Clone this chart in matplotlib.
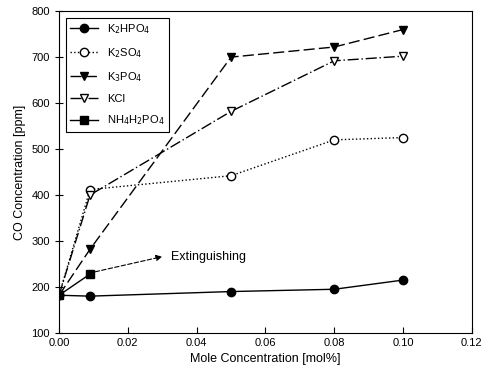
import matplotlib

matplotlib.use("Agg")
import matplotlib.pyplot as plt

plt.rcParams["font.family"] = ["Liberation Sans", "DejaVu Sans"]

# mole concentration [mol%]
x_full = [0.0, 0.009, 0.05, 0.08, 0.10]
x_nh4 = [0.0, 0.009]

# CO concentration [ppm]
k2hpo4 = [182, 180, 190, 195, 215]
k2so4 = [182, 412, 442, 520, 525]
k3po4 = [182, 282, 700, 722, 760]
kcl = [182, 400, 582, 692, 702]
nh4h2po4 = [182, 228]

fig = plt.figure(figsize=(4.84, 3.84), dpi=100)
ax = fig.add_axes([0.122, 0.133, 0.853, 0.838])

ax.plot(x_full, k2hpo4, "-", color="black", lw=1, marker="o", ms=6,
        label="K$_2$HPO$_4$")
ax.plot(x_full, k2so4, ":", color="black", lw=1, marker="o", ms=6,
        mfc="white", label="K$_2$SO$_4$")
ax.plot(x_full, k3po4, color="black", lw=1, dashes=(8, 3), marker="v", ms=6,
        label="K$_3$PO$_4$")
ax.plot(x_full, kcl, color="black", lw=1, dashes=(8, 2, 1, 2), marker="v",
        ms=6, mfc="white", label="KCl")
ax.plot(x_nh4, nh4h2po4, "-", color="black", lw=1, marker="s", ms=6,
        label="NH$_4$H$_2$PO$_4$")

# arrow pointing from the NH4H2PO4 point to the label
ax.annotate("", xy=(0.030, 266), xytext=(0.0105, 233),
            arrowprops=dict(arrowstyle="-|>", color="black", lw=0.8,
                            linestyle=(0, (4, 2)), mutation_scale=9,
                            shrinkA=0, shrinkB=0))
ax.text(0.0325, 266, "Extinguishing", fontsize=9, va="center")

ax.set_xlim(0, 0.12)
ax.set_ylim(100, 800)
ax.set_xticks([0.0, 0.02, 0.04, 0.06, 0.08, 0.10, 0.12])
ax.set_xticklabels(["0.00", "0.02", "0.04", "0.06", "0.08", "0.10", "0.12"])
ax.set_yticks(range(100, 801, 100))
ax.tick_params(axis="x", direction="in", labelsize=8, length=4)
ax.tick_params(axis="y", direction="inout", labelsize=8, length=6)
for s in ax.spines.values():
    s.set_linewidth(0.8)

ax.set_xlabel("Mole Concentration [mol%]", fontsize=9)
ax.set_ylabel("CO Concentration [ppm]", fontsize=9)

leg = ax.legend(loc="upper left", fontsize=8, frameon=True, fancybox=False,
                edgecolor="black", framealpha=1, handlelength=2.5,
                borderaxespad=0.6, labelspacing=0.9)
leg.get_frame().set_linewidth(0.8)

fig.savefig("out.png")
